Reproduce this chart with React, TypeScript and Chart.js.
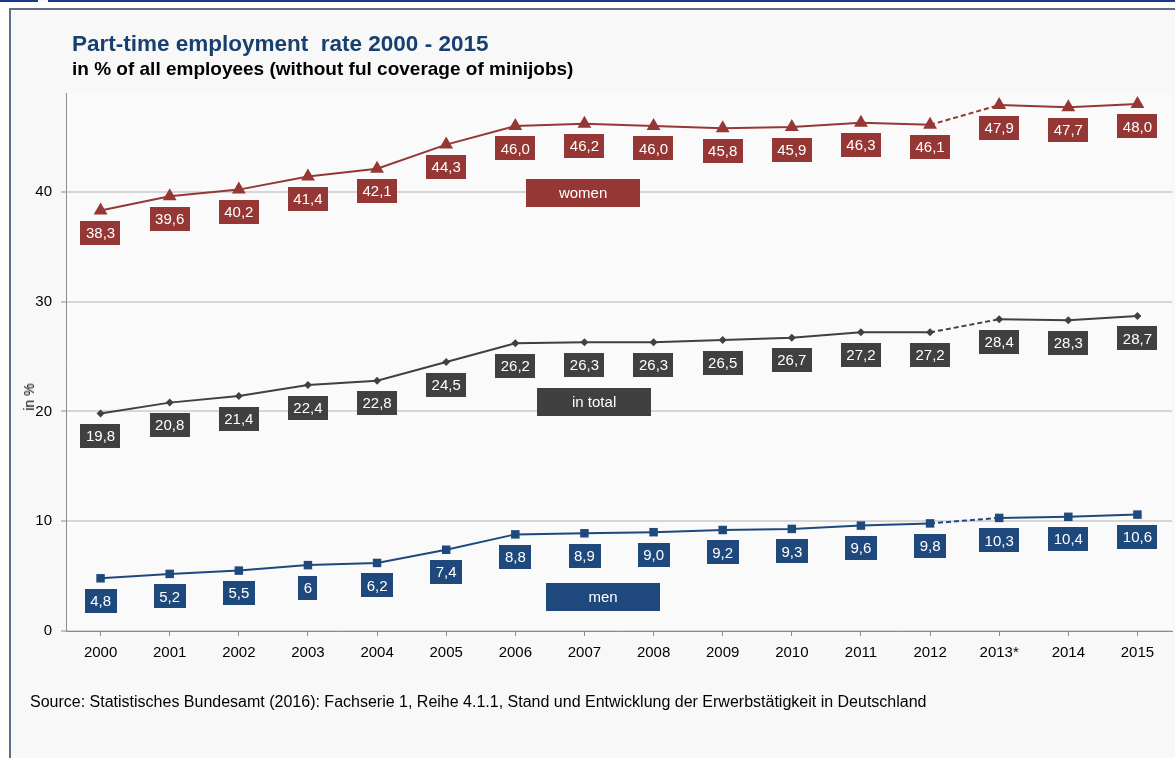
import React, { useEffect, useRef } from "react";
import { Chart, registerables } from "chart.js";

Chart.register(...registerables);

const years = ["2000", "2001", "2002", "2003", "2004", "2005", "2006", "2007", "2008", "2009", "2010", "2011", "2012", "2013*", "2014", "2015"];
const women = [38.3, 39.6, 40.2, 41.4, 42.1, 44.3, 46.0, 46.2, 46.0, 45.8, 45.9, 46.3, 46.1, 47.9, 47.7, 48.0];
const total = [19.8, 20.8, 21.4, 22.4, 22.8, 24.5, 26.2, 26.3, 26.3, 26.5, 26.7, 27.2, 27.2, 28.4, 28.3, 28.7];
const men = [4.8, 5.2, 5.5, 6, 6.2, 7.4, 8.8, 8.9, 9.0, 9.2, 9.3, 9.6, 9.8, 10.3, 10.4, 10.6];
const womenLabels = ["38,3", "39,6", "40,2", "41,4", "42,1", "44,3", "46,0", "46,2", "46,0", "45,8", "45,9", "46,3", "46,1", "47,9", "47,7", "48,0"];
const totalLabels = ["19,8", "20,8", "21,4", "22,4", "22,8", "24,5", "26,2", "26,3", "26,3", "26,5", "26,7", "27,2", "27,2", "28,4", "28,3", "28,7"];
const menLabels = ["4,8", "5,2", "5,5", "6", "6,2", "7,4", "8,8", "8,9", "9,0", "9,2", "9,3", "9,6", "9,8", "10,3", "10,4", "10,6"];
const seriesNames = ["women", "in total", "men"];
const yTicks = [0, 10, 20, 30, 40];
const dashedSegmentStart = 12;

const WOMEN_COLOR = "#953735";
const TOTAL_COLOR = "#404040";
const MEN_COLOR = "#1f497d";

// legend tag anchors in data coordinates (category index, value)
const legendAnchors = [
  { x: 6.98, y: 39.9 },
  { x: 7.14, y: 20.9 },
  { x: 7.27, y: 3.1 },
];

const FONT = "'Liberation Sans', Arial, sans-serif";

export default function App() {
  const ref = useRef<HTMLCanvasElement | null>(null);

  useEffect(() => {
    const canvas = ref.current;
    if (!canvas) return;
    const allLabels = [womenLabels, totalLabels, menLabels];
    const colors = [WOMEN_COLOR, TOTAL_COLOR, MEN_COLOR];

    const bgPlugin = {
      id: "bg",
      beforeDraw(chart: any) {
        const { ctx, chartArea } = chart;
        ctx.save();
        ctx.fillStyle = "#fafafa";
        ctx.fillRect(chartArea.left, chartArea.top, chartArea.right - chartArea.left, chartArea.bottom - chartArea.top);
        ctx.restore();
      },
    };

    const labelPlugin = {
      id: "boxLabels",
      afterDatasetsDraw(chart: any) {
        const ctx = chart.ctx;
        ctx.save();
        ctx.font = `15px ${FONT}`;
        ctx.textAlign = "center";
        ctx.textBaseline = "middle";
        chart.data.datasets.forEach((ds: any, di: number) => {
          const meta = chart.getDatasetMeta(di);
          meta.data.forEach((pt: any, i: number) => {
            const txt = allLabels[di][i];
            const w = ctx.measureText(txt).width + 11;
            const h = 24;
            const cx = pt.x;
            const cy = pt.y + 22.5;
            ctx.fillStyle = colors[di];
            ctx.fillRect(Math.round(cx - w / 2), Math.round(cy - h / 2), Math.round(w), h);
            ctx.fillStyle = "#ffffff";
            ctx.fillText(txt, cx, cy + 1);
          });
        });
        // series name tags
        const xs = chart.scales.x;
        const ys = chart.scales.y;
        legendAnchors.forEach((a, di) => {
          const x0 = xs.getPixelForValue(0);
          const x1 = xs.getPixelForValue(1);
          const cx = x0 + (x1 - x0) * a.x;
          const cy = ys.getPixelForValue(a.y);
          const w = 114;
          const h = 28;
          ctx.fillStyle = colors[di];
          ctx.fillRect(Math.round(cx - w / 2), Math.round(cy - h / 2), w, h);
          ctx.fillStyle = "#ffffff";
          ctx.fillText(seriesNames[di], cx, cy + 1);
        });
        ctx.restore();
      },
    };

    const seg = (color: string) => ({
      borderDash: (c: any) => (c.p0DataIndex === dashedSegmentStart ? [5, 3] : undefined),
      borderColor: () => color,
    });

    const chart = new Chart(canvas, {
      type: "line",
      data: {
        labels: years,
        datasets: [
          {
            label: seriesNames[0],
            data: women,
            borderColor: WOMEN_COLOR,
            backgroundColor: WOMEN_COLOR,
            borderWidth: 2,
            pointStyle: "triangle",
            pointRadius: 8,
            pointBorderWidth: 0,
            tension: 0,
            segment: seg(WOMEN_COLOR),
          },
          {
            label: seriesNames[1],
            data: total,
            borderColor: TOTAL_COLOR,
            backgroundColor: TOTAL_COLOR,
            borderWidth: 2,
            pointStyle: "rectRot",
            pointRadius: 4,
            pointBorderWidth: 0,
            tension: 0,
            segment: seg(TOTAL_COLOR),
          },
          {
            label: seriesNames[2],
            data: men,
            borderColor: MEN_COLOR,
            backgroundColor: MEN_COLOR,
            borderWidth: 2,
            pointStyle: "rect",
            pointRadius: 6,
            pointBorderWidth: 0,
            tension: 0,
            segment: seg(MEN_COLOR),
          },
        ],
      },
      options: {
        responsive: false,
        animation: false,
        devicePixelRatio: 1,
        layout: { padding: { left: 0, right: 2, top: 93, bottom: 97 } },
        plugins: {
          legend: { display: false },
          tooltip: { enabled: false },
          title: { display: false },
        },
        scales: {
          x: {
            offset: true,
            grid: { drawOnChartArea: false, drawTicks: true, tickLength: 5, color: "#8c8c8c" },
            border: { display: true, color: "#8c8c8c", width: 1 },
            ticks: { color: "#000", font: { family: FONT, size: 15 }, padding: 8, maxRotation: 0, autoSkip: false },
            afterFit(scale: any) {
              scale.height = 30;
            },
          },
          y: {
            min: 0,
            max: 49,
            grid: { color: "#d6d6d6", lineWidth: 2, tickLength: 5, tickColor: "#8c8c8c", tickWidth: 1 },
            border: { display: true, color: "#8c8c8c", width: 1 },
            ticks: { stepSize: 10, color: "#000", font: { family: FONT, size: 15 }, padding: 9 },
            afterBuildTicks(scale: any) {
              scale.ticks = yTicks.map((v) => ({ value: v }));
            },
            afterFit(scale: any) {
              scale.width = 66;
            },
          },
        },
      },
      plugins: [bgPlugin, labelPlugin],
    } as any);

    return () => chart.destroy();
  }, []);

  return (
    <div style={{ position: "absolute", left: 0, top: 0, width: 1175, height: 758, overflow: "hidden", background: "#f8f8f8", fontFamily: FONT }}>
      <div style={{ position: "absolute", left: 0, top: 0, width: 38, height: 2, background: "#1a3a8c" }} />
      <div style={{ position: "absolute", left: 48, top: 0, width: 1127, height: 2, background: "#1a3a8c" }} />
      <div style={{ position: "absolute", left: 0, top: 2, width: 1175, height: 7, background: "#ffffff" }} />
      <div style={{ position: "absolute", left: 0, top: 2, width: 9, height: 756, background: "#ffffff" }} />
      <div
        style={{
          position: "absolute",
          left: 9,
          top: 8,
          width: 1200,
          height: 800,
          borderTop: "2px solid #5b6f8a",
          borderLeft: "2px solid #5b6f8a",
          boxSizing: "border-box",
        }}
      />
      <canvas ref={ref} width={1180} height={758} style={{ position: "absolute", left: 0, top: 0, width: 1180, height: 758 }} />
      <div style={{ position: "absolute", left: 72, top: 31, fontSize: 22.5, lineHeight: "26px", fontWeight: "bold", color: "#17406f", whiteSpace: "pre" }}>
        {"Part-time employment  rate 2000 - 2015"}
      </div>
      <div style={{ position: "absolute", left: 72, top: 58, fontSize: 19, lineHeight: "22px", fontWeight: "bold", color: "#000", whiteSpace: "pre" }}>
        in % of all employees (without ful coverage of minijobs)
      </div>
      <div
        style={{
          position: "absolute",
          left: 29,
          top: 397,
          fontSize: 14,
          lineHeight: "16px",
          fontWeight: "normal",
          color: "#000",
          whiteSpace: "pre",
          transform: "translate(-50%, -50%) rotate(-90deg)",
        }}
      >
        in %
      </div>
      <div style={{ position: "absolute", left: 30, top: 693, fontSize: 16, lineHeight: "18px", color: "#000", whiteSpace: "pre" }}>
        Source: Statistisches Bundesamt (2016): Fachserie 1, Reihe 4.1.1, Stand und Entwicklung der Erwerbstätigkeit in Deutschland
      </div>
    </div>
  );
}
